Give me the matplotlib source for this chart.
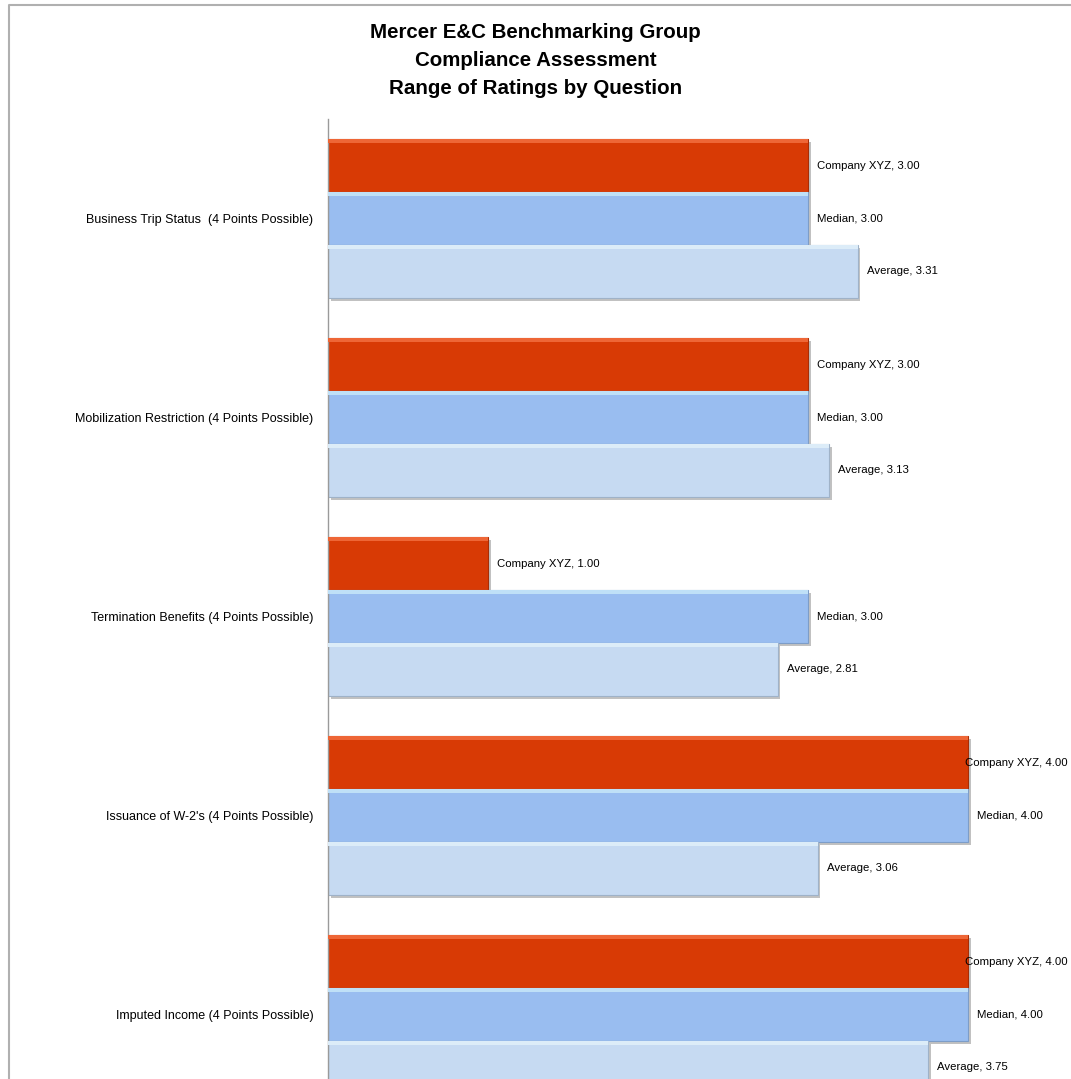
import numpy as np
import matplotlib.pyplot as plt
import matplotlib.patheffects as pe
from matplotlib.lines import Line2D

# data
questions = ["Business Trip Status  (4 Points Possible)",
             "Mobilization Restriction (4 Points Possible)",
             "Termination Benefits (4 Points Possible)",
             "Issuance of W-2's (4 Points Possible)",
             "Imputed Income (4 Points Possible)"]
series = ["Company XYZ", "Median", "Average"]
company = [3.00, 3.00, 1.00, 4.00, 4.00]
median = [3.00, 3.00, 3.00, 4.00, 4.00]
average = [3.31, 3.13, 2.81, 3.06, 3.75]

colors = ["#d83a05", "#99bdf0", "#c6daf2"]
tops = ["#ee6636", "#bfe0f7", "#dcecf8"]
edges = ["#a82d05", "#7d9dc8", "#9fb2c8"]

plt.rcParams['font.family'] = ["Liberation Sans", "DejaVu Sans"]

W, H = 1071, 1079
fig = plt.figure(figsize=(W / 100, H / 100), dpi=100)
ax = fig.add_axes([328 / W, 0, (1048 - 328) / W, 1 - 119 / H])

y = np.arange(len(questions))
h = 0.266
vals = [company, median, average]
offs = [-h, 0, h]

shadow = [pe.SimplePatchShadow(offset=(2, -2), shadow_rgbFace="#777777", alpha=0.45), pe.Normal()]
for k in range(3):
    ax.barh(y + offs[k], vals[k], height=h, color=colors[k], edgecolor=edges[k],
            linewidth=0.8, path_effects=shadow, zorder=2)
    # bevel highlight along the top of each bar
    ax.barh(y + offs[k] - h / 2 + 0.012, vals[k], height=0.02, color=tops[k],
            linewidth=0, zorder=3)

ax.set_xlim(0, 4.5)
ax.set_ylim(4.5 - 35 / 199, -0.5)
ax.set_yticks(y)
ax.set_yticklabels(questions, fontsize=9)
ax.tick_params(axis='y', length=0, pad=10.5)
ax.set_xticks([])
for s in ["top", "right", "bottom"]:
    ax.spines[s].set_visible(False)
ax.spines["left"].set_color("#9a9a9a")
ax.spines["left"].set_linewidth(1)

# data labels
texts = []
for k in range(3):
    for i, v in enumerate(vals[k]):
        t = ax.annotate(f"{series[k]}, {v:.2f}", (v, y[i] + offs[k]), xytext=(6.5, 0),
                        textcoords="offset points", va="center", ha="left", fontsize=8.2)
        texts.append((t, v))

# Excel pulls labels back inside the chart area when they would spill over
fig.canvas.draw()
r = fig.canvas.get_renderer()
for t, v in texts:
    bb = t.get_window_extent(r)
    if bb.x1 > W - 3:
        xend = ax.transData.transform((v, 0))[0]
        t.set_ha("right")
        t.xyann = ((W - 3 - xend) * 72 / 100, 0)

fig.text(0.5, 1 - 60.5 / H, "Mercer E&C Benchmarking Group\nCompliance Assessment\nRange of Ratings by Question",
         ha="center", va="center", fontsize=14.8, fontweight="bold", linespacing=1.62)

# chart border
fig.add_artist(Line2D([8.5 / W, 8.5 / W, 1], [0, 1 - 4.5 / H, 1 - 4.5 / H],
                      transform=fig.transFigure, color="#b0b0b0", linewidth=1.5))

fig.savefig("out.png", dpi=100)
